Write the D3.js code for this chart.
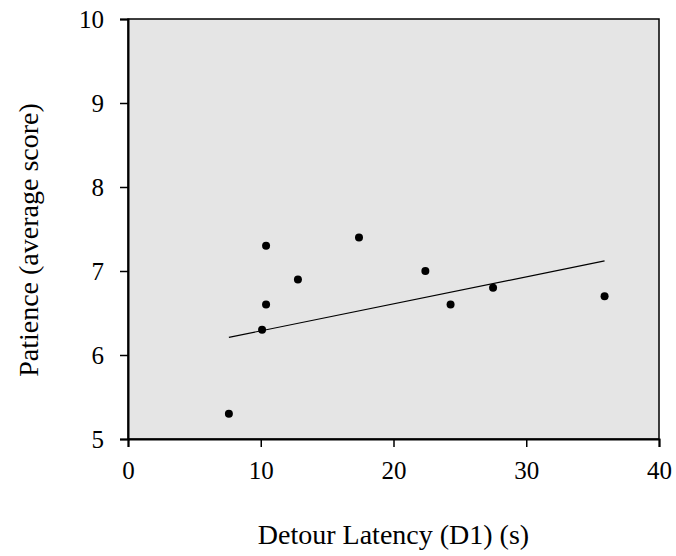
<!DOCTYPE html>
<html>
<head>
<meta charset="utf-8">
<script src="https://cdn.jsdelivr.net/npm/d3@7"></script>
<style>
  body { margin: 0; background: #fff; }
  svg text { font-family: "Liberation Serif", "Times New Roman", serif; fill: #000; }
</style>
</head>
<body>
<svg id="chart" width="676" height="556"></svg>
<script>
// detour latency vs patience
var latency  = [7.6, 10.1, 10.4, 10.4, 12.8, 17.4, 22.4, 24.3, 27.5, 35.9];
var patience = [5.3, 6.3, 6.6, 7.3, 6.9, 7.4, 7.0, 6.6, 6.8, 6.7];
var trendX = [7.6, 35.9];
var trendY = [6.21, 7.12];
var xTicks = [0, 10, 20, 30, 40];
var yTicks = [5, 6, 7, 8, 9, 10];

var svg = d3.select('#chart')
    , plotL = 128, plotR = 659, plotT = 19, plotB = 439
    ;

var x = d3.scaleLinear().domain([0, 40]).range([plotL, plotR]);
var y = d3.scaleLinear().domain([5, 10]).range([plotB, plotT]);

// plot area
svg.append('rect')
  .attr('x', plotL).attr('y', plotT)
  .attr('width', plotR - plotL).attr('height', plotB - plotT)
  .attr('fill', '#e5e5e5')
  .attr('stroke', '#000').attr('stroke-width', 1.5);

var xAxis = svg.append('g')
  .attr('transform', 'translate(0,' + plotB + ')')
  .call(d3.axisBottom(x).tickValues(xTicks).tickFormat(d3.format('d')).tickSize(8).tickPadding(14));

var yAxis = svg.append('g')
  .attr('transform', 'translate(' + plotL + ',0)')
  .call(d3.axisLeft(y).tickValues(yTicks).tickFormat(d3.format('d')).tickSize(8).tickPadding(16));

[xAxis, yAxis].forEach(function(g) {
  g.select('.domain').attr('stroke-width', 2);
  g.selectAll('.tick line').attr('stroke-width', 1.5);
  g.selectAll('.tick text')
    .attr('font-family', '"Liberation Serif", serif')
    .attr('font-size', 25)
    .attr('fill', '#000');
});

// trend line
svg.append('path')
  .datum(d3.zip(trendX, trendY))
  .attr('d', d3.line().x(function(d) { return x(d[0]); }).y(function(d) { return y(d[1]); }))
  .attr('stroke', '#000').attr('stroke-width', 1.2).attr('fill', 'none');

svg.append('g').selectAll('circle')
  .data(d3.zip(latency, patience))
  .join('circle')
  .attr('cx', function(d) { return x(d[0]); })
  .attr('cy', function(d) { return y(d[1]); })
  .attr('r', 4)
  .attr('fill', '#000');

svg.append('text')
  .attr('x', (plotL + plotR) / 2).attr('y', 544)
  .attr('text-anchor', 'middle')
  .attr('font-size', 28)
  .text('Detour Latency (D1) (s)');

svg.append('text')
  .attr('transform', 'translate(38,240) rotate(-90)')
  .attr('text-anchor', 'middle')
  .attr('font-size', 28)
  .text('Patience (average score)');
</script>
</body>
</html>
